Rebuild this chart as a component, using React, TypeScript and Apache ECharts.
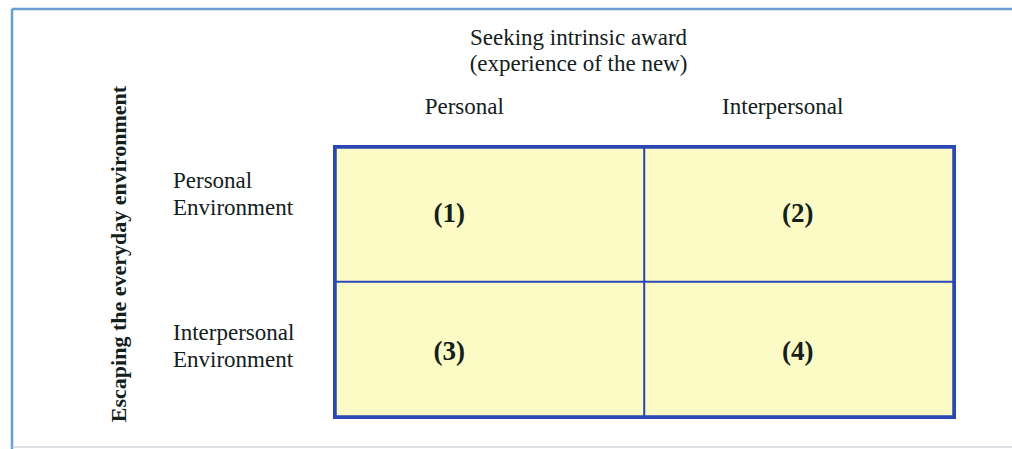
import React, { useEffect, useRef } from "react";
import * as echarts from "echarts";

// ---- data ----
const colCategories = ["Personal", "Interpersonal"];
const rowCategories = ["Personal\nEnvironment", "Interpersonal\nEnvironment"];
const cellNumbers = [
  [1, 2],
  [3, 4],
];
const xAxisTitle = "Seeking intrinsic award\n(experience of the new)";
const yAxisTitle = "Escaping the everyday environment";

// ---- styling ----
const FONT = "'Liberation Serif', 'Times New Roman', serif";
const TEXT = "#14201b";
const GRID_BLUE = "#2b47b5";
const FILL = "#fcfbc6";
const FRAME = "#6a9ecf";
const colLabelShift = [-41, -1];
const rowLabelShift = [-2, 2];
const xLabelPadRight = [52, 32];
const yLabelSpacer = [42, 7];

export default function App() {
  const ref = useRef<HTMLDivElement>(null);

  useEffect(() => {
    if (!ref.current) return;
    const chart = echarts.init(ref.current, null, { renderer: "svg" });

    const data: any[] = [];
    cellNumbers.forEach((row, r) =>
      row.forEach((n, c) => {
        data.push({
          value: [c, r, n],
          label: { offset: [colLabelShift[c], rowLabelShift[r]] },
        });
      })
    );

    const xRich: any = {};
    colCategories.forEach((_, i) => {
      xRich["a" + i] = {
        fontFamily: FONT,
        fontSize: 23,
        color: TEXT,
        lineHeight: 27,
        padding: [0, xLabelPadRight[i], 0, 0],
      };
    });
    const yRich: any = {
      t: { fontFamily: FONT, fontSize: 23, color: TEXT, lineHeight: 27 },
    };
    rowCategories.forEach((_, i) => {
      yRich["g" + i] = {
        fontFamily: FONT,
        fontSize: 1,
        color: TEXT,
        lineHeight: yLabelSpacer[i],
      };
    });

    chart.setOption({
      animation: false,
      backgroundColor: "#ffffff",
      grid: {
        left: 336,
        top: 148,
        width: 617,
        height: 268,
        show: true,
        borderColor: GRID_BLUE,
        borderWidth: 6,
        backgroundColor: FILL,
      },
      xAxis: {
        type: "category",
        position: "top",
        data: colCategories,
        axisLine: { show: false },
        axisTick: { show: false },
        splitLine: { show: false },
        axisLabel: {
          margin: 28,
          formatter: (v: string, i: number) => `{a${i}|${v}}`,
          rich: xRich,
        },
        name: xAxisTitle,
        nameLocation: "middle",
        nameGap: 72,
        nameTextStyle: {
          fontFamily: FONT,
          fontSize: 23,
          lineHeight: 26,
          color: TEXT,
          padding: [0, 132, 0, 0],
        },
      },
      yAxis: {
        type: "category",
        inverse: true,
        data: rowCategories,
        axisLine: { show: false },
        axisTick: { show: false },
        splitLine: { show: false },
        axisLabel: {
          align: "left",
          margin: 163,
          formatter: (v: string, i: number) =>
            v
              .split("\n")
              .map((l) => `{t|${l}}`)
              .join("\n") + `\n{g${i}| }`,
          rich: yRich,
        },
        name: yAxisTitle,
        nameLocation: "middle",
        nameRotate: 90,
        nameGap: 207,
        nameTextStyle: {
          fontFamily: FONT,
          fontSize: 22,
          fontWeight: "bold",
          color: TEXT,
          padding: [0, 0, 0, 56],
        },
      },
      visualMap: {
        show: false,
        min: 0,
        max: 10,
        dimension: 2,
        inRange: { color: [FILL, FILL] },
      },
      series: [
        {
          type: "heatmap",
          data,
          itemStyle: { borderColor: GRID_BLUE, borderWidth: 2 },
          emphasis: { disabled: true },
          label: {
            show: true,
            formatter: (p: any) => `(${p.value[2]})`,
            fontFamily: FONT,
            fontSize: 27,
            fontWeight: "bold",
            color: TEXT,
          },
        },
      ],
      graphic: [
        {
          type: "line",
          shape: { x1: 12, y1: 9, x2: 1012, y2: 9 },
          style: { stroke: FRAME, lineWidth: 2.5 },
          silent: true,
        },
        {
          type: "line",
          shape: { x1: 12, y1: 9, x2: 12, y2: 449 },
          style: { stroke: FRAME, lineWidth: 2.5 },
          silent: true,
        },
        {
          type: "line",
          shape: { x1: 12, y1: 447, x2: 1012, y2: 447 },
          style: { stroke: "#b9c3cc", lineWidth: 1 },
          silent: true,
        },
      ],
    });

    return () => chart.dispose();
  }, []);

  return (
    <div
      ref={ref}
      style={{ position: "absolute", left: 0, top: 0, width: 1012, height: 449 }}
    />
  );
}
